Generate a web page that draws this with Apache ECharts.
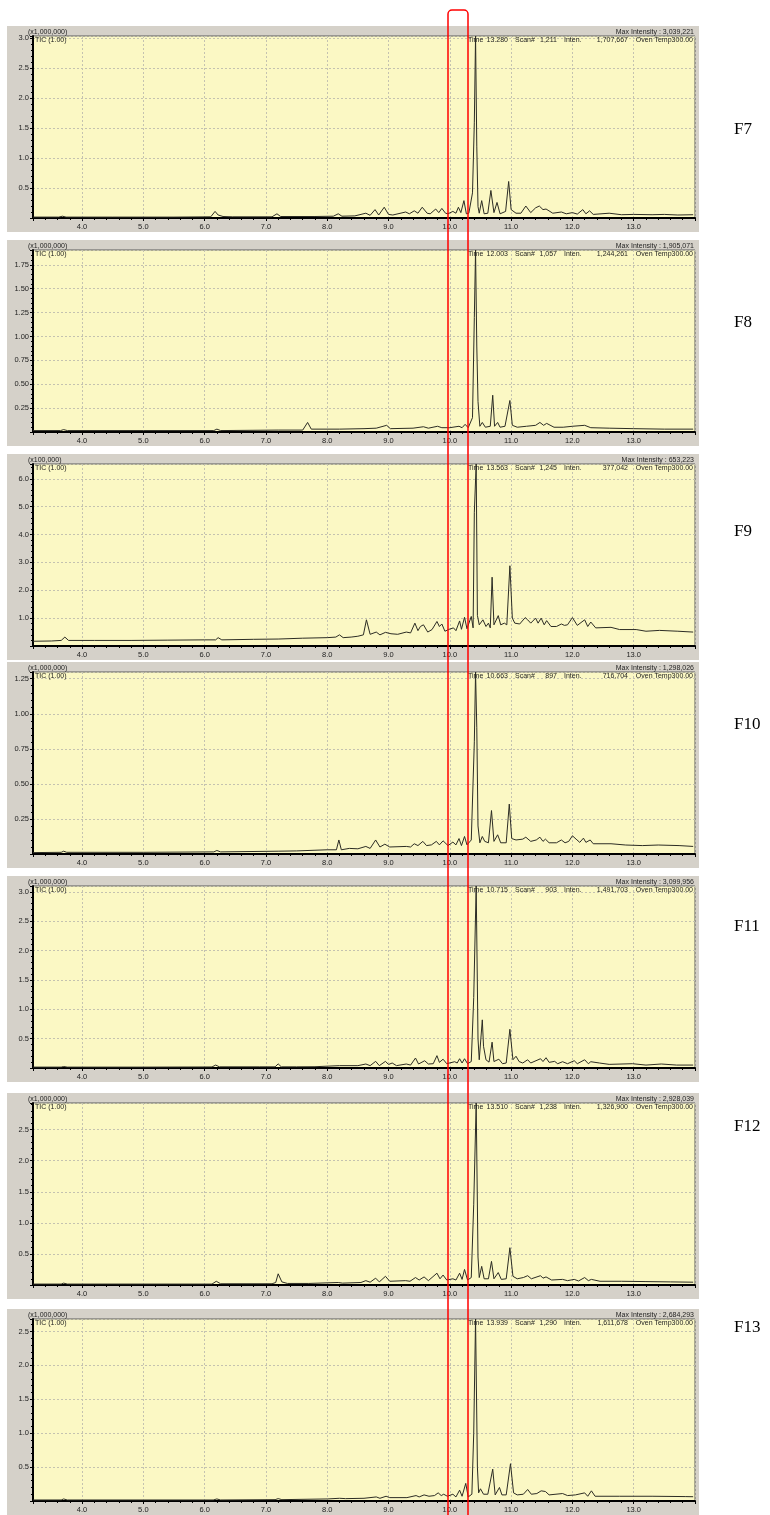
<!DOCTYPE html>
<html>
<head>
<meta charset="utf-8">
<script src="https://cdn.jsdelivr.net/npm/echarts@6/dist/echarts.min.js"></script>
<style>
  html, body { margin: 0; padding: 0; background: #fff; }
  #chart { width: 770px; height: 1515px; }
</style>
</head>
<body>
<div id="chart"></div>
<script>
// one TIC chromatogram per fraction
const sampleNames = ['F7', 'F8', 'F9', 'F10', 'F11', 'F12', 'F13'];
const scaleLabels = ['(x1,000,000)', '(x1,000,000)', '(x100,000)', '(x1,000,000)', '(x1,000,000)', '(x1,000,000)', '(x1,000,000)'];
const maxIntensity = ['3,039,221', '1,905,071', '653,223', '1,298,026', '3,099,956', '2,928,039', '2,684,293'];
const yMax = [3.039221, 1.905071, 6.53223, 1.298026, 3.099956, 2.928039, 2.684293];
const yStep = [0.5, 0.25, 1, 0.25, 0.5, 0.5, 0.5];
const yDecimals = [1, 2, 1, 2, 1, 1, 1];
const cursorTime = ['13.280', '12.003', '13.563', '10.663', '10.715', '13.510', '13.939'];
const cursorScan = ['1,211', '1,057', '1,245', '897', '903', '1,238', '1,290'];
const cursorInten = ['1,707,667', '1,244,261', '377,042', '716,704', '1,491,703', '1,326,900', '1,611,678'];
const ovenTemp = 'Oven Temp300.00';
const timeRange = [3.2, 14.0];

// [retention time (min), intensity (in units of the panel's scale label)]
const f7Trace = [[3.2,0.015],[3.62,0.015],[3.68,0.03],[3.74,0.015],[4.5,0.015],[5.5,0.015],[6.1,0.02],[6.17,0.11],[6.22,0.05],[6.3,0.025],[6.45,0.02],[7.1,0.02],[7.18,0.07],[7.24,0.025],[7.8,0.025],[8.1,0.03],[8.18,0.07],[8.24,0.03],[8.45,0.035],[8.63,0.08],[8.7,0.045],[8.78,0.14],[8.84,0.05],[8.93,0.18],[9.0,0.06],[9.07,0.05],[9.28,0.10],[9.34,0.07],[9.42,0.12],[9.48,0.08],[9.55,0.18],[9.63,0.08],[9.68,0.07],[9.77,0.15],[9.82,0.09],[9.87,0.16],[9.93,0.08],[9.97,0.07],[10.05,0.11],[10.1,0.08],[10.14,0.18],[10.18,0.09],[10.23,0.29],[10.27,0.07],[10.31,0.08],[10.37,0.42],[10.4,1.6],[10.42,3.039],[10.44,1.2],[10.46,0.19],[10.48,0.08],[10.52,0.29],[10.56,0.07],[10.62,0.08],[10.67,0.46],[10.72,0.09],[10.77,0.26],[10.82,0.07],[10.91,0.11],[10.96,0.61],[11.0,0.14],[11.08,0.08],[11.16,0.08],[11.24,0.2],[11.32,0.09],[11.4,0.17],[11.46,0.2],[11.52,0.14],[11.57,0.15],[11.68,0.08],[11.82,0.10],[11.9,0.07],[12.0,0.09],[12.08,0.065],[12.17,0.14],[12.22,0.07],[12.28,0.12],[12.34,0.06],[12.6,0.08],[12.8,0.055],[13.0,0.06],[13.3,0.055],[13.5,0.06],[13.72,0.05],[13.97,0.055]];
const f8Trace = [[3.2,0.015],[3.65,0.015],[3.7,0.025],[3.76,0.015],[5.0,0.015],[6.15,0.015],[6.2,0.03],[6.26,0.015],[7.2,0.02],[7.6,0.02],[7.68,0.1],[7.74,0.03],[8.2,0.03],[8.6,0.035],[8.8,0.04],[8.97,0.07],[9.03,0.035],[9.4,0.04],[9.57,0.055],[9.65,0.04],[9.8,0.06],[9.87,0.045],[9.9,0.06],[10.0,0.045],[10.15,0.06],[10.2,0.045],[10.25,0.08],[10.3,0.045],[10.37,0.15],[10.4,1.2],[10.42,1.905],[10.44,0.9],[10.46,0.32],[10.49,0.06],[10.53,0.1],[10.58,0.05],[10.66,0.06],[10.7,0.385],[10.73,0.06],[10.78,0.1],[10.82,0.05],[10.9,0.06],[10.98,0.33],[11.02,0.07],[11.1,0.05],[11.25,0.06],[11.4,0.07],[11.47,0.1],[11.53,0.07],[11.58,0.09],[11.7,0.05],[11.85,0.05],[12.0,0.06],[12.2,0.07],[12.3,0.045],[12.6,0.04],[13.0,0.035],[13.5,0.03],[13.97,0.03]];
const f9Trace = [[3.2,0.17],[3.5,0.18],[3.66,0.2],[3.72,0.32],[3.78,0.2],[4.2,0.2],[4.8,0.2],[5.4,0.21],[6.0,0.22],[6.18,0.22],[6.22,0.3],[6.28,0.22],[6.8,0.24],[7.2,0.25],[7.6,0.28],[8.0,0.3],[8.14,0.32],[8.2,0.4],[8.26,0.3],[8.39,0.32],[8.5,0.35],[8.59,0.4],[8.64,0.94],[8.7,0.42],[8.8,0.5],[8.86,0.4],[8.95,0.49],[9.04,0.44],[9.15,0.42],[9.29,0.5],[9.36,0.47],[9.43,0.82],[9.48,0.55],[9.52,0.7],[9.57,0.76],[9.64,0.5],[9.71,0.59],[9.79,0.88],[9.83,0.7],[9.87,0.79],[9.92,0.53],[9.99,0.6],[10.06,0.65],[10.1,0.55],[10.16,0.9],[10.19,0.6],[10.24,1.03],[10.28,0.62],[10.35,1.06],[10.38,0.65],[10.4,4.8],[10.43,6.532],[10.45,1.1],[10.48,0.76],[10.54,0.94],[10.59,0.7],[10.63,0.82],[10.66,0.65],[10.69,2.47],[10.72,0.76],[10.79,1.09],[10.83,0.76],[10.89,0.82],[10.93,0.76],[10.98,2.88],[11.02,1.0],[11.06,0.82],[11.14,0.79],[11.23,1.02],[11.27,0.94],[11.32,0.82],[11.40,1.0],[11.44,0.82],[11.49,1.0],[11.54,0.76],[11.58,0.91],[11.65,0.7],[11.74,0.7],[11.82,0.79],[11.87,0.74],[11.92,0.76],[12.0,1.02],[12.08,0.74],[12.2,0.94],[12.25,0.7],[12.3,0.86],[12.38,0.65],[12.63,0.67],[12.77,0.59],[13.04,0.59],[13.2,0.53],[13.42,0.56],[13.72,0.53],[13.97,0.5]];
const f10Trace = [[3.2,0.01],[3.66,0.012],[3.7,0.02],[3.75,0.012],[5.0,0.012],[6.15,0.015],[6.2,0.025],[6.26,0.015],[7.2,0.02],[7.5,0.022],[8.0,0.03],[8.15,0.03],[8.19,0.10],[8.23,0.03],[8.36,0.04],[8.5,0.037],[8.63,0.054],[8.7,0.04],[8.79,0.10],[8.86,0.05],[8.94,0.07],[9.02,0.05],[9.29,0.054],[9.36,0.05],[9.42,0.073],[9.48,0.06],[9.56,0.09],[9.62,0.06],[9.7,0.065],[9.78,0.09],[9.83,0.065],[9.89,0.094],[9.97,0.06],[10.05,0.085],[10.1,0.065],[10.15,0.11],[10.19,0.06],[10.24,0.125],[10.28,0.065],[10.35,0.10],[10.38,0.09],[10.4,0.8],[10.42,1.298],[10.44,0.9],[10.46,0.2],[10.49,0.08],[10.53,0.125],[10.57,0.09],[10.63,0.08],[10.68,0.31],[10.72,0.09],[10.78,0.137],[10.83,0.08],[10.92,0.08],[10.97,0.356],[11.01,0.11],[11.08,0.1],[11.19,0.106],[11.24,0.12],[11.32,0.09],[11.41,0.10],[11.47,0.12],[11.52,0.09],[11.56,0.106],[11.62,0.08],[11.74,0.08],[11.82,0.10],[11.88,0.08],[11.94,0.09],[12.0,0.13],[12.06,0.106],[12.12,0.083],[12.18,0.113],[12.22,0.083],[12.29,0.10],[12.34,0.073],[12.63,0.073],[12.87,0.064],[13.14,0.06],[13.4,0.064],[13.74,0.06],[13.97,0.054]];
const f11Trace = [[3.2,0.015],[3.66,0.015],[3.7,0.025],[3.76,0.015],[5.0,0.015],[6.12,0.018],[6.18,0.05],[6.24,0.02],[6.9,0.02],[7.15,0.02],[7.2,0.07],[7.25,0.02],[7.5,0.02],[7.8,0.022],[8.2,0.04],[8.5,0.04],[8.63,0.068],[8.7,0.04],[8.79,0.113],[8.85,0.04],[8.95,0.113],[9.0,0.06],[9.06,0.085],[9.13,0.04],[9.29,0.068],[9.36,0.05],[9.44,0.17],[9.49,0.068],[9.59,0.124],[9.65,0.068],[9.73,0.073],[9.79,0.21],[9.83,0.096],[9.89,0.15],[9.95,0.073],[10.08,0.107],[10.12,0.085],[10.16,0.158],[10.2,0.085],[10.24,0.158],[10.29,0.073],[10.35,0.11],[10.39,1.2],[10.43,3.1],[10.46,0.5],[10.48,0.14],[10.53,0.82],[10.55,0.37],[10.59,0.14],[10.64,0.1],[10.69,0.44],[10.72,0.11],[10.80,0.15],[10.86,0.073],[10.92,0.085],[10.98,0.66],[11.03,0.14],[11.08,0.2],[11.13,0.11],[11.19,0.085],[11.27,0.14],[11.32,0.085],[11.48,0.158],[11.52,0.11],[11.57,0.175],[11.62,0.096],[11.71,0.113],[11.76,0.073],[11.84,0.107],[11.92,0.073],[12.03,0.124],[12.08,0.073],[12.2,0.14],[12.26,0.073],[12.3,0.107],[12.44,0.085],[12.6,0.062],[12.98,0.073],[13.2,0.05],[13.45,0.068],[13.7,0.05],[13.97,0.05]];
const f12Trace = [[3.2,0.015],[3.66,0.015],[3.7,0.03],[3.76,0.015],[5.0,0.015],[6.12,0.015],[6.19,0.06],[6.26,0.02],[7.1,0.02],[7.16,0.04],[7.2,0.18],[7.26,0.05],[7.35,0.025],[7.7,0.025],[8.18,0.04],[8.25,0.03],[8.55,0.04],[8.63,0.07],[8.7,0.045],[8.79,0.11],[8.85,0.05],[8.95,0.14],[9.02,0.06],[9.28,0.07],[9.35,0.06],[9.44,0.12],[9.5,0.08],[9.58,0.13],[9.65,0.07],[9.79,0.19],[9.84,0.1],[9.89,0.16],[9.95,0.08],[10.05,0.1],[10.1,0.08],[10.16,0.19],[10.2,0.09],[10.24,0.25],[10.29,0.08],[10.35,0.12],[10.39,1.3],[10.43,2.928],[10.46,0.45],[10.48,0.12],[10.52,0.3],[10.56,0.1],[10.63,0.1],[10.68,0.38],[10.72,0.1],[10.79,0.2],[10.84,0.09],[10.92,0.1],[10.98,0.6],[11.03,0.14],[11.1,0.1],[11.2,0.12],[11.27,0.15],[11.33,0.1],[11.48,0.15],[11.52,0.11],[11.57,0.13],[11.66,0.08],[11.84,0.09],[11.92,0.07],[12.03,0.09],[12.1,0.065],[12.2,0.12],[12.26,0.07],[12.31,0.09],[12.45,0.06],[12.8,0.06],[13.2,0.055],[13.6,0.05],[13.97,0.045]];
const f13Trace = [[3.2,0.015],[3.66,0.015],[3.7,0.03],[3.76,0.015],[5.0,0.015],[6.14,0.015],[6.2,0.03],[6.26,0.015],[7.15,0.02],[7.2,0.035],[7.26,0.02],[8.0,0.03],[8.2,0.04],[8.3,0.035],[8.6,0.04],[8.8,0.06],[8.86,0.04],[8.96,0.07],[9.02,0.05],[9.3,0.05],[9.45,0.08],[9.5,0.06],[9.58,0.09],[9.66,0.07],[9.75,0.08],[9.81,0.12],[9.86,0.08],[9.9,0.1],[9.96,0.07],[10.05,0.1],[10.1,0.06],[10.16,0.16],[10.2,0.07],[10.26,0.26],[10.3,0.06],[10.36,0.1],[10.39,1.0],[10.42,2.684],[10.45,0.5],[10.47,0.12],[10.5,0.18],[10.55,0.1],[10.62,0.1],[10.7,0.47],[10.74,0.09],[10.81,0.2],[10.85,0.09],[10.92,0.09],[10.99,0.55],[11.04,0.12],[11.1,0.09],[11.2,0.1],[11.27,0.17],[11.33,0.1],[11.42,0.11],[11.49,0.15],[11.56,0.14],[11.62,0.09],[11.84,0.11],[11.92,0.08],[12.05,0.09],[12.2,0.12],[12.25,0.07],[12.31,0.15],[12.37,0.07],[12.77,0.07],[13.3,0.07],[13.85,0.065],[13.97,0.063]];
const traces = [f7Trace, f8Trace, f9Trace, f10Trace, f11Trace, f12Trace, f13Trace];

// page layout (pixels)
const plotLeft = 33;
const plotWidth = 662;
const plotHeight = 182;
const plotBottoms = [218, 432, 646, 854, 1068, 1285, 1501];
const nameTops = [130, 323, 532, 725, 927, 1127, 1328];

const smallFont = '7px "Liberation Sans"';
const textColor = '#1e1e1e';

const chart = echarts.init(document.getElementById('chart'));

const grids = [], xAxes = [], yAxes = [], series = [], graphics = [];

plotBottoms.forEach((bottom, i) => {
  const top = bottom - plotHeight;

  grids.push({
    left: plotLeft, top: top, width: plotWidth, height: plotHeight,
    show: true, backgroundColor: '#fbf8c4', borderColor: '#5a5a5a', borderWidth: 1
  });

  xAxes.push({
    type: 'value', gridIndex: i,
    min: timeRange[0], max: timeRange[1],
    minInterval: 1, maxInterval: 1,
    axisLine: { show: true, onZero: false, lineStyle: { color: '#000', width: 2 } },
    axisTick: { show: true, length: 3, lineStyle: { color: '#000' } },
    minorTick: { show: true, splitNumber: 5, length: 2, lineStyle: { color: '#000' } },
    axisLabel: {
      fontSize: 7.5, fontFamily: 'Liberation Sans', color: textColor, margin: 5,
      formatter: (v) => (v < 3.9 || v > 13.5 ? '' : v.toFixed(1))
    },
    splitLine: { show: true, lineStyle: { color: '#c4c2b0', width: 1, type: [2, 2] } }
  });

  const step = yStep[i];
  yAxes.push({
    type: 'value', gridIndex: i,
    min: 0, max: yMax[i],
    minInterval: step, maxInterval: step,
    axisLine: { show: true, lineStyle: { color: '#000', width: 2 } },
    axisTick: { show: true, length: 3, lineStyle: { color: '#000' } },
    minorTick: { show: true, splitNumber: 5, length: 2, lineStyle: { color: '#000' } },
    axisLabel: {
      fontSize: 7.5, fontFamily: 'Liberation Sans', color: textColor, margin: 4,
      formatter: (v) => {
        const k = v / step;
        if (v < 1e-9 || Math.abs(k - Math.round(k)) > 1e-6) return '';
        return v.toFixed(yDecimals[i]);
      }
    },
    splitLine: { show: true, lineStyle: { color: '#c4c2b0', width: 1, type: [2, 2] } }
  });

  series.push({
    type: 'line', xAxisIndex: i, yAxisIndex: i,
    data: traces[i],
    showSymbol: false, silent: true, clip: true,
    lineStyle: { color: '#2c2c24', width: 1 }
  });

  // grey window frame behind each panel
  graphics.push({
    type: 'rect', z: -100,
    shape: { x: 7, y: top - 10, width: 692, height: plotHeight + 24 },
    style: { fill: '#d5d1c9' }
  });

  // header texts
  const hdr = (x, y, text, align) => ({
    type: 'text', z: 100, x: x, y: y,
    style: { text: text, font: smallFont, fill: textColor, align: align || 'left', verticalAlign: 'middle' }
  });
  graphics.push(hdr(28, top - 4, scaleLabels[i]));
  graphics.push(hdr(694, top - 4, 'Max Intensity : ' + maxIntensity[i], 'right'));
  graphics.push(hdr(35, top + 4, 'TIC (1.00)'));
  graphics.push(hdr(468, top + 4, 'Time'));
  graphics.push(hdr(508, top + 4, cursorTime[i], 'right'));
  graphics.push(hdr(515, top + 4, 'Scan#'));
  graphics.push(hdr(557, top + 4, cursorScan[i], 'right'));
  graphics.push(hdr(564, top + 4, 'Inten.'));
  graphics.push(hdr(628, top + 4, cursorInten[i], 'right'));
  graphics.push(hdr(693, top + 4, ovenTemp, 'right'));

  // fraction name at the right
  graphics.push({
    type: 'text', z: 100, x: 734, y: nameTops[i],
    style: { text: sampleNames[i], font: '17px "Liberation Serif"', fill: '#000', verticalAlign: 'middle' }
  });
});

// red highlight box across all panels
graphics.push({
  type: 'rect', z: 200,
  shape: { x: 448, y: 10, width: 20, height: 1530, r: [4, 4, 0, 0] },
  style: { fill: 'none', stroke: '#ff0000', lineWidth: 1.5 }
});

chart.setOption({
  animation: false,
  backgroundColor: '#ffffff',
  grid: grids,
  xAxis: xAxes,
  yAxis: yAxes,
  series: series,
  graphic: graphics
});
</script>
</body>
</html>
